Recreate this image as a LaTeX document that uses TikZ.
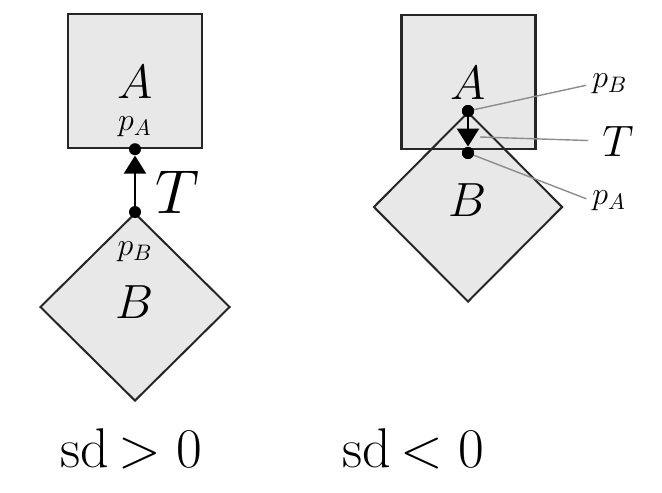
\RequirePackage{fix-cm}
\documentclass[tikz,border=0pt]{standalone}
\usetikzlibrary{shapes.geometric,arrows.meta}
\begin{document}
\begin{tikzpicture}[x=0.5pt,y=-0.5pt,
  box/.style={rectangle,draw=black!85,line width=1.2pt,fill=black!9,minimum size=67pt,inner sep=0pt},
  dia/.style={diamond,draw=black!85,line width=1pt,fill=black!9,minimum width=95pt,minimum height=94pt,inner sep=0pt},
  dot/.style={circle,fill=black,inner sep=0pt,minimum size=6pt},
  vec/.style={line width=1.1pt,-{Triangle[width=11pt,length=9pt]}},
  leader/.style={draw=black!45,line width=0.7pt},
  bigl/.style={font=\fontsize{24}{28}\selectfont,inner sep=0pt},
  midl/.style={font=\fontsize{22}{26}\selectfont,inner sep=0pt},
  smal/.style={font=\fontsize{16}{19}\selectfont,inner sep=0pt},
  hugel/.style={font=\fontsize{31}{36}\selectfont,inner sep=0pt},
  capl/.style={font=\fontsize{28}{34}\selectfont,inner sep=0pt,anchor=base}
]
\useasboundingbox (0,0) rectangle (662,492);

% ---- left: sd > 0
\node[box] (A1) at (135,81) {};
\node[dia] (B1) at (135,307) {};
\node[bigl] (tA1) at (135,82) {$A$};
\node[smal] (lpA1) at (135,127) {$p_A$};
\node[bigl] (tB1) at (135,302) {$B$};
\node[smal] (lpB1) at (135,252) {$p_B$};
\node[dot] (pA1) at (A1.south) {};
\node[dot] (pB1) at (B1.north) {};
\draw[vec] (pB1) -- (pA1);
\node[hugel] (lT1) at (178,192) {$T$};
\node[capl] (cap1) at (131,467) {$\mathrm{sd}\mskip-2mu > 0$};

% ---- right: sd < 0
\node[box] (A2) at (468.5,82) {};
\node[dia,minimum width=94.5pt,minimum height=95pt] (B2) at (468,207) {};
\node[box,fill=none] (A2o) at (A2) {};
\node[bigl] (tA2) at (468,83) {$A$};
\node[bigl] (tB2) at (468,200) {$B$};
\node[dot] (pB2) at (B2.north) {};
\node[dot] (pA2) at (468,153) {};
\draw[vec] (pB2) -- (pA2);
\node[smal,anchor=west] (lpB2) at (592,84) {$p_B$};
\node[midl,anchor=west] (lT2) at (602,141) {$T$};
\node[smal,anchor=west] (lpA2) at (592,201) {$p_A$};
\coordinate (Tpt) at (480,137);
\draw[leader,shorten >=3pt] (pB2.center) -- (lpB2.west);
\draw[leader,shorten >=7pt] (Tpt) -- (lT2.west);
\draw[leader,shorten >=3pt] (pA2.center) -- (lpA2.west);
\node[dot] (pB2d) at (pB2) {};
\node[dot] (pA2d) at (pA2) {};
\node[capl] (cap2) at (413,467) {$\mathrm{sd}\mskip-2mu < 0$};
\end{tikzpicture}
\end{document}
